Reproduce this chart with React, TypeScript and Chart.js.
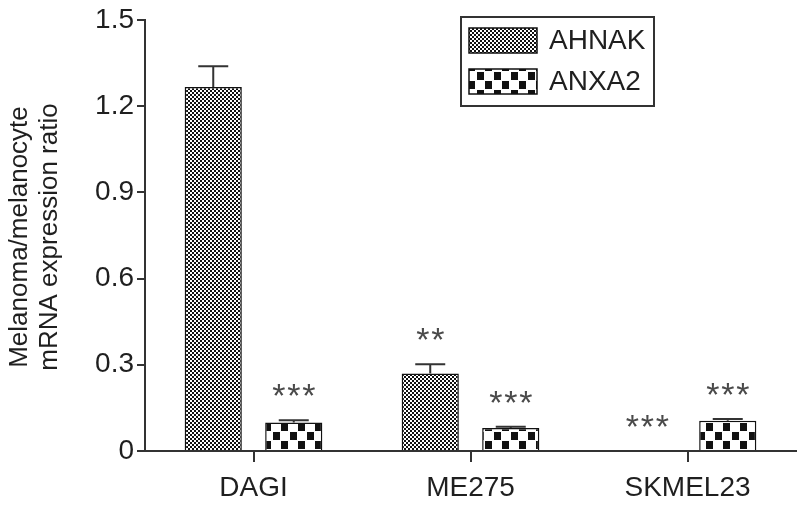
import React, { useEffect, useRef } from "react";
import { Chart, registerables } from "chart.js";

Chart.register(...registerables);

const CATEGORIES = ["DAGI", "ME275", "SKMEL23"];
const SERIES_NAMES = ["AHNAK", "ANXA2"];
const AHNAK = [1.266, 0.27, 0];
const AHNAK_ERR = [0.072, 0.032, 0];
const ANXA2 = [0.099, 0.08, 0.105];
const ANXA2_ERR = [0.008, 0.004, 0.006];
const AHNAK_SIG = ["", "**", "***"];
const ANXA2_SIG = ["***", "***", "***"];
const Y_TICKS = [0, 0.3, 0.6, 0.9, 1.2, 1.5];
const Y_TITLE = ["Melanoma/melanocyte", "mRNA expression ratio"];

const FONT = '"Liberation Sans", Arial, sans-serif';
const INK = "#1f1f1f";

function makeFinePattern(): CanvasPattern | string {
  const c = document.createElement("canvas");
  c.width = 4;
  c.height = 4;
  const g = c.getContext("2d");
  if (!g) return "#888";
  g.fillStyle = "#fff";
  g.fillRect(0, 0, 4, 4);
  g.fillStyle = "#111";
  g.fillRect(0, 0, 2, 2);
  g.fillRect(2, 2, 2, 2);
  return g.createPattern(c, "repeat") || "#888";
}

function makeCoarsePattern(): CanvasPattern | string {
  const c = document.createElement("canvas");
  c.width = 17;
  c.height = 18;
  const g = c.getContext("2d");
  if (!g) return "#888";
  g.fillStyle = "#fff";
  g.fillRect(0, 0, 17, 18);
  g.fillStyle = "#111";
  g.fillRect(1, 0, 7, 8);
  g.fillRect(9, 9, 7, 8);
  return g.createPattern(c, "repeat") || "#888";
}

export default function App() {
  const ref = useRef<HTMLCanvasElement | null>(null);

  useEffect(() => {
    if (!ref.current) return;
    const fine = makeFinePattern();
    const coarse = makeCoarsePattern();
    const errs = [AHNAK_ERR, ANXA2_ERR];
    const sigs = [AHNAK_SIG, ANXA2_SIG];
    const fills = [fine, coarse];

    const overlay = {
      id: "overlay",
      afterDatasetsDraw(chart: any) {
        const ctx = chart.ctx;
        const y = chart.scales.y;
        ctx.save();
        chart.data.datasets.forEach((ds: any, i: number) => {
          const meta = chart.getDatasetMeta(i);
          meta.data.forEach((el: any, j: number) => {
            const v = ds.data[j];
            const e = errs[i][j];
            const base = y.getPixelForValue(v);
            const top = y.getPixelForValue(v + e);
            if (e > 0) {
              ctx.strokeStyle = "#333";
              ctx.lineWidth = 2;
              ctx.beginPath();
              ctx.moveTo(el.x, base);
              ctx.lineTo(el.x, top);
              ctx.moveTo(el.x - 15, top);
              ctx.lineTo(el.x + 15, top);
              ctx.stroke();
            }
            const s = sigs[i][j];
            if (s) {
              ctx.fillStyle = "#4a4a4a";
              ctx.font = `34px ${FONT}`;
              ctx.textAlign = "center";
              ctx.textBaseline = "alphabetic";
              const cy = top - 32;
              const n = s.length;
              for (let k = 0; k < n; k++) {
                const cx = el.x + (k - (n - 1) / 2) * 15;
                ctx.fillText("*", cx, cy + 19);
              }
            }
          });
        });
        ctx.restore();
      },
      afterDraw(chart: any) {
        const ctx = chart.ctx;
        ctx.save();
        // legend
        ctx.strokeStyle = "#333";
        ctx.lineWidth = 2;
        ctx.strokeRect(461, 17, 193, 89);
        const sy = [28, 69];
        SERIES_NAMES.forEach((name, k) => {
          ctx.fillStyle = fills[k] as any;
          ctx.fillRect(469, sy[k], 68, 25);
          ctx.strokeStyle = "#111";
          ctx.lineWidth = 1.5;
          ctx.strokeRect(469, sy[k], 68, 25);
          ctx.fillStyle = INK;
          ctx.font = `28px ${FONT}`;
          ctx.textAlign = "left";
          ctx.textBaseline = "middle";
          ctx.fillText(name, 549, sy[k] + 13);
        });
        // y title
        ctx.translate(0, 237);
        ctx.rotate(-Math.PI / 2);
        ctx.fillStyle = INK;
        ctx.font = `26px ${FONT}`;
        ctx.textAlign = "center";
        ctx.textBaseline = "middle";
        ctx.fillText(Y_TITLE[0], 0, 20);
        ctx.fillText(Y_TITLE[1], 0, 50);
        ctx.restore();
      },
    };

    const chart = new Chart(ref.current, {
      type: "bar",
      data: {
        labels: CATEGORIES,
        datasets: [
          {
            label: SERIES_NAMES[0],
            data: AHNAK,
            backgroundColor: fine as any,
            borderColor: "#111",
            borderWidth: 1.5,
            categoryPercentage: 0.742,
            barPercentage: 0.71,
          },
          {
            label: SERIES_NAMES[1],
            data: ANXA2,
            backgroundColor: coarse as any,
            borderColor: "#111",
            borderWidth: 1.5,
            categoryPercentage: 0.742,
            barPercentage: 0.71,
          },
        ],
      },
      options: {
        responsive: false,
        animation: false,
        layout: { padding: { top: 15, right: 4, bottom: 0, left: 0 } },
        plugins: {
          legend: { display: false },
          tooltip: { enabled: false },
          title: { display: false },
        },
        scales: {
          x: {
            grid: {
              offset: false,
              drawOnChartArea: false,
              drawTicks: true,
              tickLength: 11,
              color: "#333",
              lineWidth: 2,
            },
            border: { display: true, color: "#333", width: 2 },
            ticks: {
              color: INK,
              font: { family: FONT, size: 28 },
              padding: 9,
              maxRotation: 0,
            },
            afterFit(scale: any) {
              scale.height = 56;
            },
          },
          y: {
            min: 0,
            max: 1.5,
            afterBuildTicks(scale: any) {
              scale.ticks = Y_TICKS.map((v) => ({ value: v }));
            },
            grid: {
              drawOnChartArea: false,
              drawTicks: true,
              tickLength: 8,
              color: "#333",
              lineWidth: 2,
            },
            border: { display: true, color: "#333", width: 2 },
            ticks: {
              color: INK,
              font: { family: FONT, size: 28 },
              padding: 3,
              callback: (v: any) => String(Number(Number(v).toFixed(1))),
            },
            afterFit(scale: any) {
              scale.width = 145;
            },
          },
        },
      },
      plugins: [overlay],
    });
    return () => chart.destroy();
  }, []);

  return (
    <div style={{ position: "absolute", left: 0, top: 0, width: 800, height: 507, background: "#fff" }}>
      <canvas ref={ref} width={800} height={507} style={{ display: "block" }} />
    </div>
  );
}
